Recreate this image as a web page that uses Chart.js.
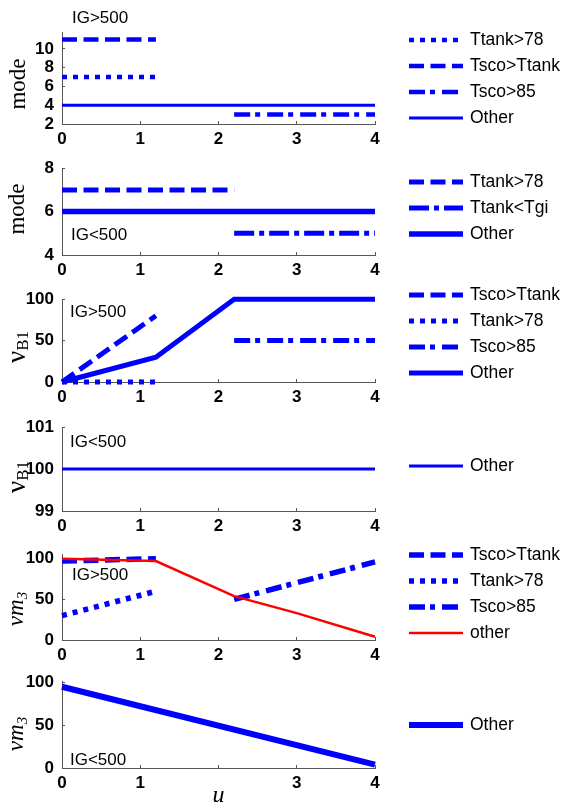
<!DOCTYPE html>
<html><head><meta charset="utf-8">
<script src="https://cdn.jsdelivr.net/npm/chart.js@4/dist/chart.umd.min.js"></script>
<style>
html,body{margin:0;padding:0;background:#fff;}
#wrap{position:relative;width:565px;height:808px;overflow:hidden;background:#fff;}
#wrap canvas{position:absolute;left:0;}
</style></head><body><div id="wrap"></div>
<script>
// ================= DATA =================
const xTickValues = [0, 1, 2, 3, 4];
const xTickLabels = ['0', '1', '2', '3', '4'];
const xTickLabelsLast = ['0', '1', '', '3', '4'];

// Panel 1 : IG>500, mode
const p1YTicks = [2, 4, 6, 8, 10];
const p1Tank78X = [0, 1.2],   p1Tank78Y = [7, 7];
const p1ScoTankX = [0, 1.2],  p1ScoTankY = [11, 11];
const p1Sco85X = [2.2, 4],    p1Sco85Y = [3, 3];
const p1OtherX = [0, 4],      p1OtherY = [4, 4];

// Panel 2 : IG<500, mode
const p2YTicks = [4, 6, 8];
const p2Tank78X = [0, 2.2],   p2Tank78Y = [7, 7];
const p2TankTgiX = [2.2, 4],  p2TankTgiY = [5, 5];
const p2OtherX = [0, 4],      p2OtherY = [6, 6];

// Panel 3 : IG>500, vB1
const p3YTicks = [0, 50, 100];
const p3ScoTankX = [0, 1.2],  p3ScoTankY = [0, 80];
const p3Tank78X = [0, 1.2],   p3Tank78Y = [0, 0];
const p3Sco85X = [2.2, 4],    p3Sco85Y = [50, 50];
const p3OtherX = [0, 1.2, 2.2, 4], p3OtherY = [0, 30, 100, 100];

// Panel 4 : IG<500, vB1
const p4YTicks = [99, 100, 101];
const p4OtherX = [0, 4],      p4OtherY = [100, 100];

// Panel 5 : IG>500, vm3
const p5YTicks = [0, 50, 100];
const p5ScoTankX = [0, 1.2],  p5ScoTankY = [97, 100];
const p5Tank78X = [0, 1.2],   p5Tank78Y = [30, 60];
const p5Sco85X = [2.2, 4],    p5Sco85Y = [50, 96];
const p5OtherX = [0, 1.2, 2.2, 3, 4], p5OtherY = [100, 97, 54, 33, 4];

// Panel 6 : IG<500, vm3
const p6YTicks = [0, 50, 100];
const p6OtherX = [0, 4],      p6OtherY = [95, 4];

// ================= STYLES =================
const BLUE = '#0000ff', RED = '#ff0000';
const DOT = [5, 6], DASH = [15, 6.5], DASHDOT = [16, 5, 5, 7];
const SANS = '"Liberation Sans", Arial, sans-serif';
const SERIF = '"Liberation Serif", "Times New Roman", serif';
const AXIS = '#555555';

function pts(xs, ys) { return xs.map((x, i) => ({ x: x, y: ys[i] })); }
function ser(label, xs, ys, color, width, dash, extra) {
  return Object.assign({
    label: label, data: pts(xs, ys), borderColor: color, backgroundColor: color,
    borderWidth: width, borderDash: dash, fill: false, pointRadius: 0, tension: 0,
    borderCapStyle: 'butt', clip: false
  }, extra || {});
}

const panels = [
  { top: 0, pt: 32, ph: 92, xh: 22, ymin: 2, ymax: 11.8, yticks: p1YTicks, xlabels: xTickLabels,
    datasets: [
      ser('Ttank>78', p1Tank78X, p1Tank78Y, BLUE, 4.5, DOT),
      ser('Tsco>Ttank', p1ScoTankX, p1ScoTankY, BLUE, 4.5, DASH),
      ser('Tsco>85', p1Sco85X, p1Sco85Y, BLUE, 4.5, DASHDOT),
      ser('Other', p1OtherX, p1OtherY, BLUE, 3, [])
    ],
    legendY: 40, note: { t: 'IG>500', x: 72, y: 18 },
    title: { cy: 84, bx: 25, parts: [{ t: 'mode', f: '23px ' + SERIF, dy: 0 }] } },
  { top: 147, pt: 15, ph: 93, xh: 22, ymin: 4, ymax: 8, yticks: p2YTicks, xlabels: xTickLabels,
    datasets: [
      ser('Ttank>78', p2Tank78X, p2Tank78Y, BLUE, 5, DASH),
      ser('Ttank<Tgi', p2TankTgiX, p2TankTgiY, BLUE, 5, [20, 5, 5, 5]),
      ser('Other', p2OtherX, p2OtherY, BLUE, 5.5, [])
    ],
    legendY: 182, note: { t: 'IG<500', x: 71, y: 235 },
    title: { cy: 209, bx: 24, parts: [{ t: 'mode', f: '23px ' + SERIF, dy: 0 }] } },
  { top: 278, pt: 15, ph: 89, xh: 22, ymin: 0, ymax: 100, yticks: p3YTicks, xlabels: xTickLabels,
    datasets: [
      ser('Tsco>Ttank', p3ScoTankX, p3ScoTankY, BLUE, 5, DASH),
      ser('Ttank>78', p3Tank78X, p3Tank78Y, BLUE, 5, DOT),
      ser('Tsco>85', p3Sco85X, p3Sco85Y, BLUE, 5, DASHDOT),
      ser('Other', p3OtherX, p3OtherY, BLUE, 5, [], { borderJoinStyle: 'miter' })
    ],
    legendY: 295, note: { t: 'IG>500', x: 70, y: 312.5 },
    title: { cy: 347, bx: 25, parts: [{ t: 'ν', f: '27px ' + SERIF, dy: 0 }, { t: 'B1', f: '17px ' + SERIF, dy: 3 }] } },
  { top: 406, pt: 15, ph: 90, xh: 22, ymin: 99, ymax: 101, yticks: p4YTicks, xlabels: xTickLabels,
    datasets: [
      ser('Other', p4OtherX, p4OtherY, BLUE, 3, [])
    ],
    legendY: 466, note: { t: 'IG<500', x: 70, y: 442 },
    title: { cy: 477, bx: 25, parts: [{ t: 'ν', f: '27px ' + SERIF, dy: 0 }, { t: 'B1', f: '17px ' + SERIF, dy: 3 }] } },
  { top: 533, pt: 15, ph: 92, xh: 22, ymin: 0, ymax: 105.5, yticks: p5YTicks, xlabels: xTickLabels,
    datasets: [
      ser('Tsco>Ttank', p5ScoTankX, p5ScoTankY, BLUE, 5.5, DASH),
      ser('Ttank>78', p5Tank78X, p5Tank78Y, BLUE, 5.5, DOT),
      ser('Tsco>85', p5Sco85X, p5Sco85Y, BLUE, 5.5, DASHDOT),
      ser('other', p5OtherX, p5OtherY, RED, 2.5, [], { order: -1 })
    ],
    legendY: 555, note: { t: 'IG>500', x: 72, y: 575.5 },
    title: { cy: 609, bx: 23, parts: [{ t: 'vm', f: 'italic 23px ' + SERIF, dy: 0 }, { t: '3', f: 'italic 15px ' + SERIF, dy: 4 }] } },
  { top: 660, pt: 15, ph: 93, xh: 40, ymin: 0, ymax: 101.5, yticks: p6YTicks, xlabels: xTickLabelsLast,
    datasets: [
      ser('Other', p6OtherX, p6OtherY, BLUE, 6, [])
    ],
    legendY: 725, note: { t: 'IG<500', x: 70, y: 760.5 }, xtitle: 'u',
    title: { cy: 734, bx: 23, parts: [{ t: 'vm', f: 'italic 23px ' + SERIF, dy: 0 }, { t: '3', f: 'italic 15px ' + SERIF, dy: 4 }] } }
];

const decoPlugin = {
  id: 'deco',
  afterDraw(chart, args, o) {
    const p = o.panel; if (!p) return;
    const ctx = chart.ctx;
    ctx.save();
    // legend
    chart.data.datasets.forEach((ds, i) => {
      const y = p.legendY + i * 26 - p.top;
      ctx.save();
      ctx.strokeStyle = ds.borderColor; ctx.lineWidth = ds.borderWidth;
      ctx.setLineDash(ds.borderDash || []); ctx.lineCap = 'butt';
      ctx.beginPath(); ctx.moveTo(409, y); ctx.lineTo(463, y); ctx.stroke();
      ctx.restore();
      ctx.fillStyle = '#000'; ctx.font = '17.5px ' + SANS;
      ctx.textBaseline = 'middle'; ctx.textAlign = 'left';
      ctx.fillText(ds.label, 470, y);
    });
    // note
    ctx.fillStyle = '#000'; ctx.font = '17px ' + SANS;
    ctx.textBaseline = 'middle'; ctx.textAlign = 'left';
    ctx.fillText(p.note.t, p.note.x, p.note.y - p.top);
    // y title (rotated, with subscripts)
    const t = p.title;
    ctx.translate(t.bx, t.cy - p.top);
    ctx.rotate(-Math.PI / 2);
    ctx.textBaseline = 'alphabetic';
    let total = 0;
    t.parts.forEach(pt => { ctx.font = pt.f; total += ctx.measureText(pt.t).width; });
    let cx = -total / 2;
    t.parts.forEach(pt => {
      ctx.font = pt.f; ctx.fillText(pt.t, cx, pt.dy);
      cx += ctx.measureText(pt.t).width;
    });
    ctx.restore();
  }
};

const wrap = document.getElementById('wrap');
panels.forEach((p) => {
  const cv = document.createElement('canvas');
  const H = p.pt + p.ph + p.xh;
  cv.width = 565; cv.height = H;
  cv.style.top = p.top + 'px'; cv.style.width = '565px'; cv.style.height = H + 'px';
  wrap.appendChild(cv);
  new Chart(cv.getContext('2d'), {
    type: 'line',
    data: { datasets: p.datasets },
    options: {
      responsive: false, animation: false, devicePixelRatio: 1,
      layout: { padding: { top: p.pt, right: 190, bottom: 0, left: 0 } },
      plugins: { legend: { display: false }, tooltip: { enabled: false }, deco: { panel: p } },
      scales: {
        x: {
          type: 'linear', min: 0, max: 4,
          afterBuildTicks: (s) => { s.ticks = xTickValues.map(v => ({ value: v })); },
          afterFit: (s) => { s.height = p.xh; },
          ticks: {
            autoSkip: false, maxRotation: 0, padding: 8, color: '#000',
            font: { family: SANS, weight: 'bold', size: 17 },
            callback: (v, i) => p.xlabels[i]
          },
          grid: { drawOnChartArea: false, drawTicks: true, tickLength: -3, color: AXIS, lineWidth: 1 },
          border: { display: true, color: AXIS, width: 1 },
          title: p.xtitle ? { display: true, text: p.xtitle, color: '#000', padding: 0,
            font: { family: SERIF, style: 'italic', size: 24, lineHeight: 1 } } : { display: false }
        },
        y: {
          type: 'linear', min: p.ymin, max: p.ymax,
          afterBuildTicks: (s) => { s.ticks = p.yticks.map(v => ({ value: v })); },
          afterFit: (s) => { s.width = 62; },
          ticks: {
            autoSkip: false, padding: 11, color: '#000',
            font: { family: SANS, weight: 'bold', size: 17 },
            callback: (v) => String(v)
          },
          grid: { drawOnChartArea: false, drawTicks: true, tickLength: -3, color: AXIS, lineWidth: 1 },
          border: { display: true, color: AXIS, width: 1 }
        }
      }
    },
    plugins: [decoPlugin]
  });
});
</script>
</body></html>
